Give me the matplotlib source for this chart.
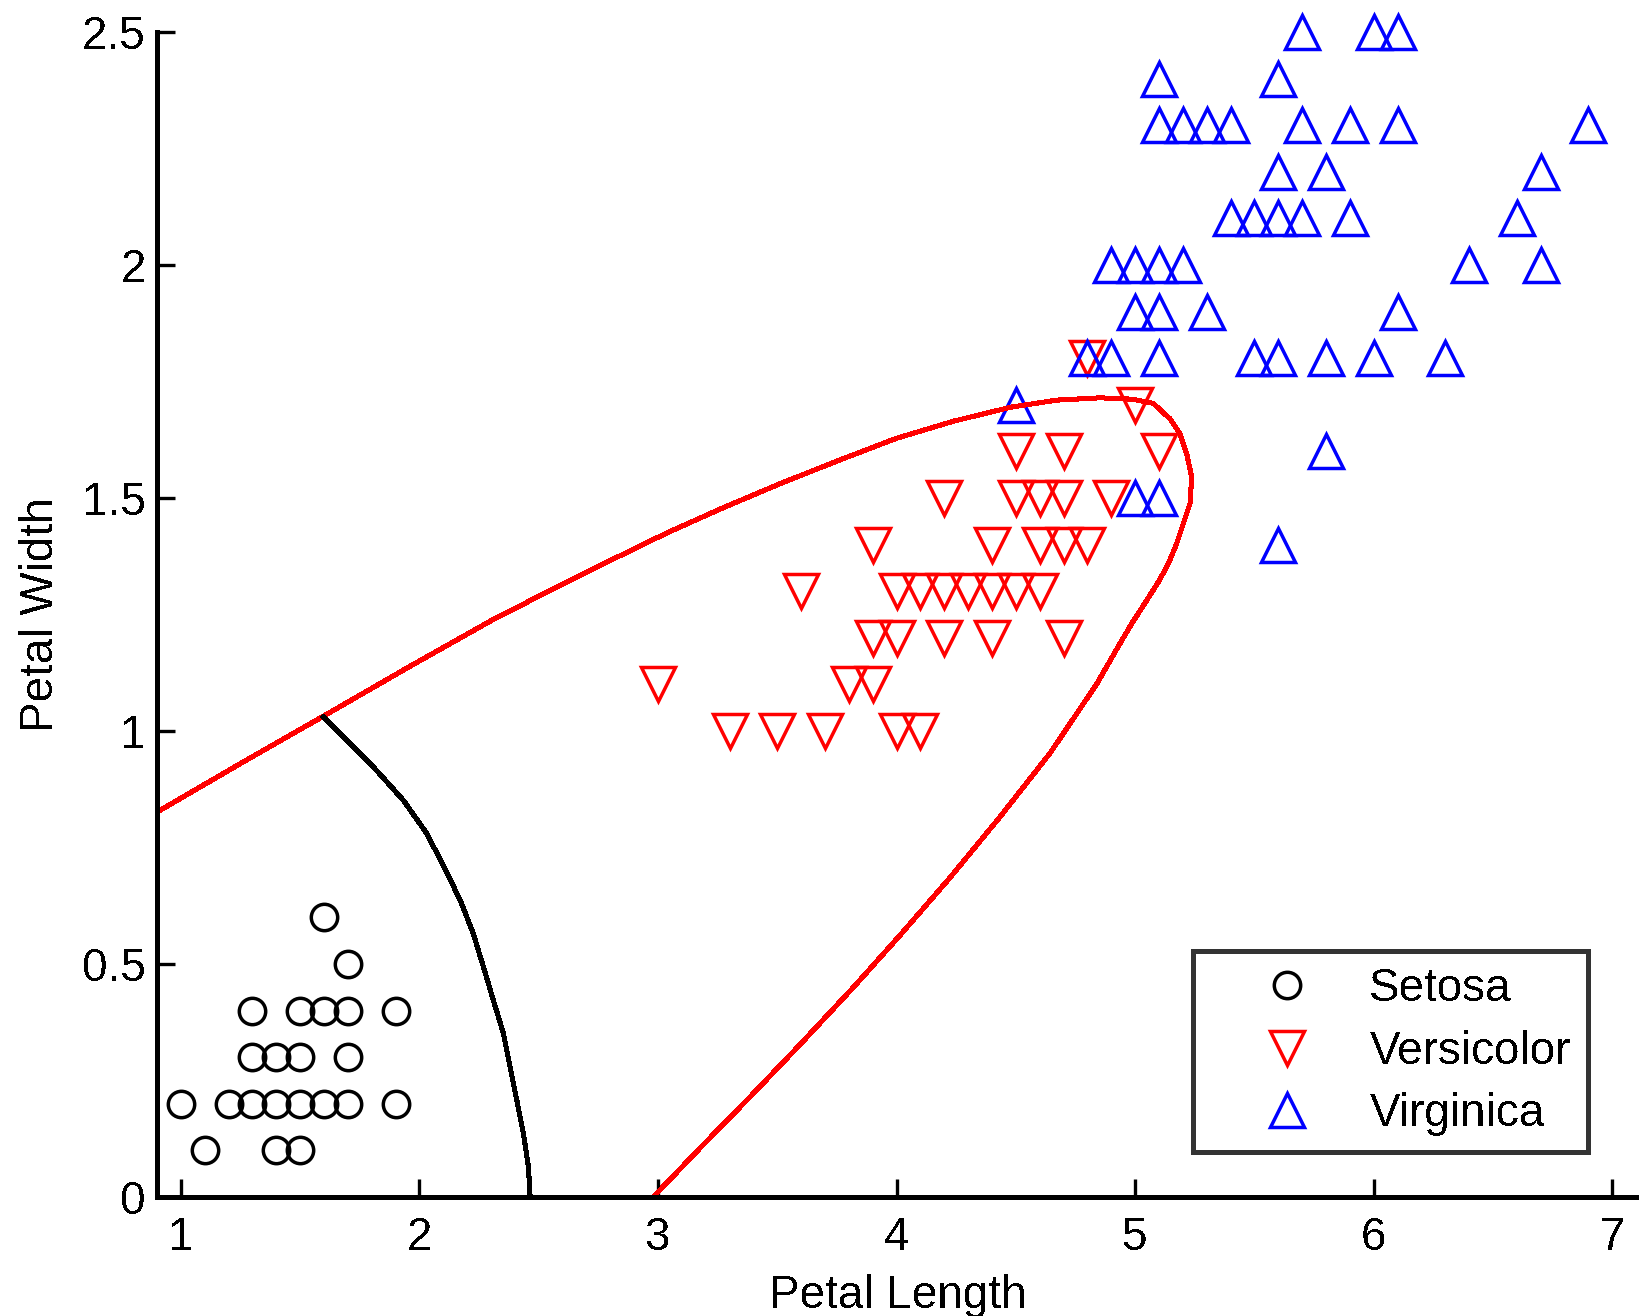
import matplotlib
matplotlib.use("Agg")
import matplotlib.pyplot as plt

plt.rcParams['font.family'] = ['Liberation Sans Narrow', 'Liberation Sans', 'DejaVu Sans']
plt.rcParams['lines.antialiased'] = False
plt.rcParams['patch.antialiased'] = False
plt.rcParams['text.antialiased'] = False

setosa_len = [1.6, 1.7, 1.3, 1.5, 1.6, 1.7, 1.9, 1.3, 1.4, 1.5, 1.7,
              1.0, 1.2, 1.3, 1.4, 1.5, 1.6, 1.7, 1.9, 1.1, 1.4, 1.5]
setosa_wid = [0.6, 0.5, 0.4, 0.4, 0.4, 0.4, 0.4, 0.3, 0.3, 0.3, 0.3,
              0.2, 0.2, 0.2, 0.2, 0.2, 0.2, 0.2, 0.2, 0.1, 0.1, 0.1]

versi_len = [3.3, 3.5, 3.7, 4.0, 4.1,
             3.0, 3.8, 3.9,
             3.9, 4.0, 4.2, 4.4, 4.7,
             3.6, 4.0, 4.1, 4.2, 4.3, 4.4, 4.5, 4.6,
             3.9, 4.4, 4.6, 4.7, 4.8,
             4.2, 4.5, 4.6, 4.7, 4.9,
             4.5, 4.7, 5.1,
             5.0, 4.8]
versi_wid = [1.0, 1.0, 1.0, 1.0, 1.0,
             1.1, 1.1, 1.1,
             1.2, 1.2, 1.2, 1.2, 1.2,
             1.3, 1.3, 1.3, 1.3, 1.3, 1.3, 1.3, 1.3,
             1.4, 1.4, 1.4, 1.4, 1.4,
             1.5, 1.5, 1.5, 1.5, 1.5,
             1.6, 1.6, 1.6,
             1.7, 1.8]

virg_len = [5.6, 5.0, 5.1, 5.8, 4.5,
            4.8, 4.9, 5.1, 5.5, 5.6, 5.8, 6.0, 6.3,
            5.0, 5.1, 5.3, 6.1,
            4.9, 5.0, 5.1, 5.2, 6.4, 6.7,
            5.4, 5.5, 5.6, 5.7, 5.9, 6.6,
            5.6, 5.8, 6.7,
            5.1, 5.2, 5.3, 5.4, 5.7, 5.9, 6.1, 6.9,
            5.1, 5.6,
            5.7, 6.0, 6.1]
virg_wid = [1.4, 1.5, 1.5, 1.6, 1.7,
            1.8, 1.8, 1.8, 1.8, 1.8, 1.8, 1.8, 1.8,
            1.9, 1.9, 1.9, 1.9,
            2.0, 2.0, 2.0, 2.0, 2.0, 2.0,
            2.1, 2.1, 2.1, 2.1, 2.1, 2.1,
            2.2, 2.2, 2.2,
            2.3, 2.3, 2.3, 2.3, 2.3, 2.3, 2.3, 2.3,
            2.4, 2.4,
            2.5, 2.5, 2.5]

# boundary curves
red_x = [0.9, 1.249, 1.598, 1.954, 2.315, 2.700, 3.037, 3.277, 3.518, 3.759,
         3.999, 4.240, 4.480, 4.671, 4.853, 4.99, 5.076, 5.146, 5.188, 5.216,
         5.237, 5.230, 5.202, 5.174, 5.139, 5.100, 5.048, 4.985, 4.922, 4.839,
         4.644, 4.434, 4.225, 4.015, 3.819, 3.595, 3.386, 3.176, 2.98]
red_y = [0.826, 0.930, 1.032, 1.137, 1.241, 1.341, 1.425, 1.480, 1.532, 1.581,
         1.628, 1.665, 1.695, 1.710, 1.715, 1.712, 1.703, 1.670, 1.638, 1.595,
         1.545, 1.488, 1.445, 1.402, 1.359, 1.322, 1.280, 1.230, 1.175, 1.101,
         0.953, 0.816, 0.686, 0.562, 0.450, 0.327, 0.215, 0.105, 0.0]

black_x = [1.598, 1.710, 1.821, 1.933, 2.031, 2.101, 2.171, 2.226, 2.268,
           2.310, 2.352, 2.380, 2.408, 2.436, 2.457, 2.464]
black_y = [1.030, 0.973, 0.915, 0.851, 0.780, 0.710, 0.637, 0.565, 0.494,
           0.422, 0.351, 0.279, 0.208, 0.136, 0.064, 0.0]

x_ticks = [1, 2, 3, 4, 5, 6, 7]
y_ticks = [0, 0.5, 1, 1.5, 2, 2.5]
y_tick_labels = ["0", "0.5", "1", "1.5", "2", "2.5"]

fig = plt.figure(figsize=(16.39, 13.16), dpi=100)
ax = fig.add_axes([0.0958, 0.0904, 0.9042, 0.8853])

mk = dict(linestyle="none", fillstyle="none", markeredgewidth=2.5, clip_on=False)
ax.plot(setosa_len, setosa_wid, marker="o", color="black", markersize=19, label="Setosa", **mk)
ax.plot(versi_len, versi_wid, marker="v", color="red", markersize=24, label="Versicolor", **mk)
ax.plot(virg_len, virg_wid, marker="^", color="blue", markersize=24, label="Virginica", **mk)

ax.plot(red_x, red_y, color="red", linewidth=2.9, solid_joinstyle="round")
ax.plot(black_x, black_y, color="black", linewidth=2.9, solid_joinstyle="round")

ax.set_xlim(0.9, 7.112)
ax.set_ylim(0, 2.5)
ax.set_xticks(x_ticks)
ax.set_xticklabels([str(t) for t in x_ticks])
ax.set_yticks(y_ticks)
ax.set_yticklabels(y_tick_labels)

for side in ["top", "right"]:
    ax.spines[side].set_visible(False)
for side in ["left", "bottom"]:
    ax.spines[side].set_linewidth(2.4)

ax.tick_params(axis="both", direction="in", length=13, width=2.4, labelsize=33)
ax.tick_params(axis="x", pad=14)
ax.tick_params(axis="y", pad=8)

ax.set_xlabel("Petal Length", fontsize=33, labelpad=10)
ax.set_ylabel("Petal Width", fontsize=33, labelpad=14)

leg = ax.legend(loc="lower left", bbox_to_anchor=(0.699, 0.0386, 0.2666, 0.175),
                mode="expand", fontsize=33, frameon=True, fancybox=False,
                borderpad=0.35, labelspacing=0.4, handlelength=3.4,
                handletextpad=0.1, borderaxespad=0)
leg.get_frame().set_edgecolor("black")
leg.get_frame().set_linewidth(2.4)

fig.savefig("out.png", dpi=100)
